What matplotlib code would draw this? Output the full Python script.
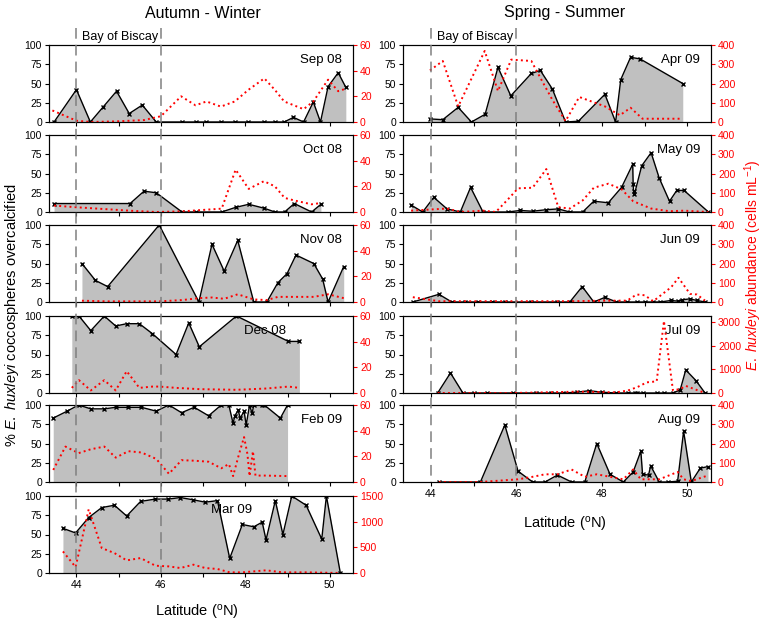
import matplotlib
matplotlib.use("Agg")
import matplotlib.pyplot as plt
from matplotlib.lines import Line2D

plt.rcParams['font.family'] = ['Liberation Sans', 'DejaVu Sans']
plt.rcParams['mathtext.fontset'] = 'custom'
plt.rcParams['mathtext.it'] = 'Liberation Sans:italic'
plt.rcParams['mathtext.rm'] = 'Liberation Sans'

# ---- data: % overcalcified (black) and abundance (red), per cruise ----
sep_lat = [43.47, 44.0, 44.33, 44.64, 44.95, 45.25, 45.56, 45.89, 46.5, 46.82, 47.08, 47.42,
           47.75, 48.07, 48.45, 48.7, 48.92, 49.14, 49.38, 49.61, 49.78, 49.96, 50.2, 50.38]
sep_pct = [0, 42, 0, 20, 40, 11, 22, 0, 0, 0, 0, 0, 0, 0, 0, 0, 0, 6, 0, 26, 0, 46, 64, 45]
sep_ab_lat = [43.43, 44.0, 44.33, 44.95, 45.6, 46.0, 46.48, 46.82, 47.08, 47.42, 47.75, 48.07,
              48.45, 48.7, 48.92, 49.38, 49.61, 49.96, 50.2, 50.38]
sep_ab = [9, 1, 0, 0.5, 1.5, 4.5, 20, 13, 16, 12, 16, 25, 34, 25, 16, 10, 16, 33, 24, 26]

oct_lat = [43.47, 45.27, 45.6, 45.89, 46.5, 46.82, 47.44, 47.77, 48.08, 48.44, 48.7, 48.93,
           49.16, 49.57, 49.79]
oct_pct = [11, 11, 27, 25, 0, 0, 0, 6, 10, 5, 0, 0, 11, 0, 10]
oct_ab_lat = [43.47, 44.0, 45.27, 45.89, 46.5, 47.44, 47.77, 48.08, 48.44, 48.7, 48.93, 49.16,
              49.57, 49.79]
oct_ab = [5, 3.7, 1, 0, 0.5, 2.6, 33, 18, 24, 20, 11, 9, 6, 7]

nov_lat = [44.13, 44.45, 44.74, 45.96, 46.9, 47.21, 47.5, 47.82, 48.2, 48.51, 48.77, 48.99,
           49.2, 49.62, 49.83, 49.96, 50.33]
nov_pct = [50, 28, 20, 100, 0, 75, 40, 80, 0, 0, 25, 37, 61, 50, 30, 0, 46]
nov_ab_lat = [44.13, 44.74, 45.96, 46.5, 46.9, 47.21, 47.5, 47.82, 48.2, 48.51, 48.77, 49.2,
              49.62, 49.96, 50.33]
nov_ab = [1, 0.5, 0.5, 1.5, 3, 3.5, 2.5, 6, 2, 1.5, 4, 4, 4, 6, 3]

dec_lat = [43.89, 44.06, 44.34, 44.66, 44.93, 45.19, 45.49, 45.8, 46.36, 46.66, 46.91, 47.79,
           49.02, 49.28]
dec_pct = [100, 100, 81, 100, 87, 90, 90, 77, 50, 91, 60, 100, 67, 67]
dec_ab_lat = [43.89, 44.06, 44.34, 44.66, 44.93, 45.19, 45.49, 45.8, 45.97, 46.36, 46.91, 47.79,
              48.5, 49.02, 49.28]
dec_ab = [4, 10, 2, 10, 2, 17, 4, 5, 5, 4, 3, 2.5, 3.5, 5, 4]

feb_lat = [43.45, 43.78, 44.05, 44.34, 44.66, 44.93, 45.23, 45.54, 45.89, 46.19, 46.49, 46.79,
           47.13, 47.43, 47.61, 47.71, 47.75, 47.83, 47.88, 47.97, 48.02, 48.1, 48.16, 48.2,
           48.4, 48.45, 48.83, 49.0]
feb_pct = [83, 92, 100, 95, 95, 97, 97, 97, 92, 100, 90, 97, 86, 100, 100, 76, 86, 93, 83, 92,
           74, 100, 89, 100, 100, 100, 83, 100]
feb_ab_lat = [43.45, 43.74, 44.05, 44.34, 44.66, 44.93, 45.23, 45.54, 45.89, 46.19, 46.49, 46.79,
              47.13, 47.43, 47.61, 47.71, 47.85, 47.97, 48.05, 48.1, 48.18, 48.24, 48.48, 49.0]
feb_ab = [9.4, 27.6, 22.5, 25.5, 27.6, 19, 24, 23, 18, 6.4, 17, 16.6, 15.8, 10.7, 14, 4.6, 21.7,
          35, 21.7, 4.6, 24, 5, 5, 4.6]

mar_lat = [43.68, 43.98, 44.29, 44.6, 44.9, 45.19, 45.52, 45.87, 46.18, 46.46, 46.77, 47.05,
           47.34, 47.63, 47.93, 48.2, 48.4, 48.49, 48.71, 48.89, 49.1, 49.44, 49.81, 49.92, 50.25]
mar_pct = [58, 52, 72, 85, 88, 74, 93, 96, 96, 98, 95, 92, 94, 19, 63, 60, 66, 43, 94, 50, 100,
           88, 44, 100, 0]
mar_ab_lat = [43.68, 43.98, 44.29, 44.6, 44.9, 45.19, 45.52, 45.87, 46.18, 46.46, 46.77, 47.05,
              47.34, 47.63, 47.93, 48.49, 48.89, 49.44, 50.25]
mar_ab = [420, 116, 1240, 485, 388, 246, 291, 142, 129, 97, 162, 97, 78, 13, 13, 52, 13, 13, 0]

apr_lat = [43.98, 44.28, 44.64, 44.95, 45.27, 45.57, 45.87, 46.35, 46.56, 46.84, 47.15, 47.45,
           48.07, 48.32, 48.44, 48.67, 48.89, 49.89]
apr_pct = [4, 3, 19, 0, 10, 71, 34, 63, 67, 43, 0, 1, 36, 0, 55, 84, 82, 50]
apr_ab_lat = [43.98, 44.28, 44.64, 45.26, 45.57, 45.88, 46.35, 46.55, 46.84, 47.15, 47.47, 48.07,
              48.42, 48.67, 48.95, 49.89]
apr_ab = [268, 317, 81, 369, 161, 324, 317, 234, 116, 5, 130, 81, 35, 74, 17, 17]

may_lat = [43.54, 43.81, 44.07, 44.38, 44.69, 44.93, 45.22, 45.8, 46.09, 46.38, 46.7, 46.98,
           47.25, 47.55, 47.81, 48.15, 48.46, 48.72, 48.73, 48.74, 48.76, 48.93, 49.15, 49.34,
           49.58, 49.75, 49.92, 50.49]
may_pct = [9, 0, 19, 4, 0, 32, 0, 0, 2, 1, 3, 4, 0, 0, 14, 12, 32, 62, 36, 27, 23, 60, 77, 44,
           14, 28, 28, 0]
may_ab_lat = [43.54, 44.38, 44.69, 45.22, 45.52, 45.8, 46.04, 46.38, 46.7, 46.98, 47.25, 47.55,
              47.81, 48.15, 48.46, 48.73, 49.15, 49.58, 49.92, 50.49]
may_ab = [7, 18, 0, 7, 0, 65, 123, 126, 223, 25, 18, 60, 126, 147, 118, 56, 18, 4, 7, 0]

jun_lat = [43.58, 44.19, 44.49, 44.81, 45.1, 45.44, 45.73, 46.35, 46.95, 47.25, 47.54, 47.81,
           48.07, 48.34, 48.59, 48.81, 49.0, 49.2, 49.36, 49.62, 49.79, 49.88, 50.06, 50.22, 50.41]
jun_pct = [0, 10, 0, 0, 0, 0, 0, 0, 0, 0, 20, 0, 6, 0, 0, 0, 0, 0, 0, 2, 1, 3, 4, 2, 0]
jun_ab_lat = [43.58, 44.19, 45.1, 46.35, 47.25, 48.07, 48.59, 48.81, 49.0, 49.2, 49.62, 49.79,
              50.06, 50.22, 50.41]
jun_ab = [25, 4, 4, 4, 4, 7, 7, 39, 35, 4, 77, 126, 42, 39, 7]

jul_lat = [44.16, 44.46, 44.75, 45.02, 45.32, 45.92, 46.47, 46.82, 47.09, 47.41, 47.7, 48.0,
           48.33, 48.6, 48.77, 48.83, 48.97, 49.28, 49.45, 49.66, 49.83, 49.96, 50.2, 50.41]
jul_pct = [0, 26, 0, 0, 0, 0, 0, 0, 0, 1, 3, 1, 0, 0, 0, 0, 0, 0, 0, 0, 4, 30, 16, 0]
jul_ab_lat = [44.16, 45.92, 47.41, 48.33, 48.6, 48.83, 49.05, 49.28, 49.45, 49.66, 49.83, 49.96,
              50.41]
jul_ab = [0, 0, 56, 28, 100, 250, 450, 490, 3040, 110, 170, 300, 0]

aug_lat = [44.19, 45.16, 45.73, 46.04, 46.38, 46.67, 46.96, 47.29, 47.6, 47.88, 48.19, 48.5,
           48.73, 48.91, 48.95, 49.09, 49.14, 49.34, 49.54, 49.77, 49.91, 50.09, 50.3, 50.48]
aug_pct = [0, 0, 74, 14, 0, 0, 9, 0, 0, 50, 10, 0, 13, 40, 10, 9, 21, 0, 0, 1, 66, 0, 18, 20]
aug_ab_lat = [44.19, 45.16, 46.04, 46.38, 46.67, 46.96, 47.29, 47.6, 47.88, 48.19, 48.5, 48.73,
              48.91, 49.14, 49.34, 49.77, 49.91, 50.09, 50.48]
aug_ab = [0, 0, 14, 27, 40, 40, 65, 27, 40, 27, 14, 65, 14, 14, 14, 52, 14, 5, 34]

W, H = 766, 624
fig = plt.figure(figsize=(W / 100, H / 100), dpi=100)

row_tops = [45, 135, 225, 316, 405, 496]
ROW_H = 77
cols = {0: (49, 304), 1: (403, 308)}
XLIM = (43.35, 50.55)


def panel(col, row, lat, pct, ab_lat, ab, ymax2, ticks2, label, label_xy=(0.965, 0.8),
          label_ha='right', xlabels=False):
    x0, w = cols[col]
    ax = fig.add_axes([x0 / W, 1 - (row_tops[row] + ROW_H) / H, w / W, ROW_H / H])
    ax.fill_between(lat, pct, 0, color='#c0c0c0', lw=0)
    ax.plot(lat, pct, color='black', lw=1, marker='x', ms=3.5, mew=1)
    ax.set_xlim(*XLIM)
    ax.set_ylim(0, 100)
    ax.set_yticks([0, 25, 50, 75, 100])
    ax.set_xticks([44, 45, 46, 47, 48, 49, 50])
    if xlabels:
        ax.set_xticklabels(['44', '', '46', '', '48', '', '50'])
    else:
        ax.set_xticklabels([])
    ax.tick_params(labelsize=7.5, length=3, width=0.8, pad=2)
    ax.text(label_xy[0], label_xy[1], label, transform=ax.transAxes, ha=label_ha,
            va='center', fontsize=9.5)
    ax2 = ax.twinx()
    ax2.plot(ab_lat, ab, color='red', ls=':', lw=1.4)
    ax2.set_ylim(0, ymax2)
    ax2.set_yticks(ticks2)
    ax2.tick_params(axis='y', colors='red', labelsize=7.5, length=3, width=0.8, pad=2)
    for a in (ax, ax2):
        for s in a.spines.values():
            s.set_linewidth(0.8)
    return ax


t60 = [0, 20, 40, 60]
t400 = [0, 100, 200, 300, 400]
a_sep = panel(0, 0, sep_lat, sep_pct, sep_ab_lat, sep_ab, 60, t60, 'Sep 08')
panel(0, 1, oct_lat, oct_pct, oct_ab_lat, oct_ab, 60, t60, 'Oct 08')
panel(0, 2, nov_lat, nov_pct, nov_ab_lat, nov_ab, 60, t60, 'Nov 08')
panel(0, 3, dec_lat, dec_pct, dec_ab_lat, dec_ab, 60, t60, 'Dec 08',
      label_xy=(0.71, 0.8), label_ha='center')
panel(0, 4, feb_lat, feb_pct, feb_ab_lat, feb_ab, 60, t60, 'Feb 09')
a_mar = panel(0, 5, mar_lat, mar_pct, mar_ab_lat, mar_ab, 1500, [0, 500, 1000, 1500], 'Mar 09',
              label_xy=(0.6, 0.82), label_ha='center', xlabels=True)

a_apr = panel(1, 0, apr_lat, apr_pct, apr_ab_lat, apr_ab, 400, t400, 'Apr 09')
panel(1, 1, may_lat, may_pct, may_ab_lat, may_ab, 400, t400, 'May 09')
panel(1, 2, jun_lat, jun_pct, jun_ab_lat, jun_ab, 400, t400, 'Jun 09')
panel(1, 3, jul_lat, jul_pct, jul_ab_lat, jul_ab, 3250, [0, 1000, 2000, 3000], 'Jul 09')
a_aug = panel(1, 4, aug_lat, aug_pct, aug_ab_lat, aug_ab, 400, t400, 'Aug 09', xlabels=True)

# Bay of Biscay dashed boundaries running through each column
inv = fig.transFigure.inverted()
for top_ax, bot_ax in ((a_sep, a_mar), (a_apr, a_aug)):
    y_bot = bot_ax.get_position().y0
    for lon in (44, 46):
        xf = inv.transform(top_ax.transData.transform((lon, 0)))[0]
        fig.add_artist(Line2D([xf, xf], [1 - 28 / H, y_bot], color='#808080', lw=1.1,
                              ls=(0, (7, 4)), zorder=5))
    x44 = inv.transform(top_ax.transData.transform((44, 0)))[0]
    fig.text(x44 + 6 / W, 1 - 37 / H, 'Bay of Biscay', fontsize=9, va='center', ha='left')

fig.text(203 / W, 1 - 13 / H, 'Autumn - Winter', fontsize=11.5, ha='center', va='center')
fig.text(565 / W, 1 - 13 / H, 'Spring - Summer', fontsize=11.5, ha='center', va='center')

fig.text(197 / W, 1 - 613 / H, r'Latitude ($^{\rm o}$N)', fontsize=10.5, ha='center', va='center')
fig.text(565 / W, 1 - 524 / H, r'Latitude ($^{\rm o}$N)', fontsize=10.5, ha='center', va='center')

fig.text(12 / W, 1 - 315 / H, r'% $\it{E.\ huxleyi}$ coccospheres overcalcified', fontsize=10.5,
         rotation=90, ha='center', va='center')
fig.text(753 / W, 1 - 265 / H, r'$\it{E.\ huxleyi}$ abundance (cells mL$^{-1}$)', fontsize=10,
         rotation=90, ha='center', va='center', color='red')

fig.savefig('out.png', dpi=100)
